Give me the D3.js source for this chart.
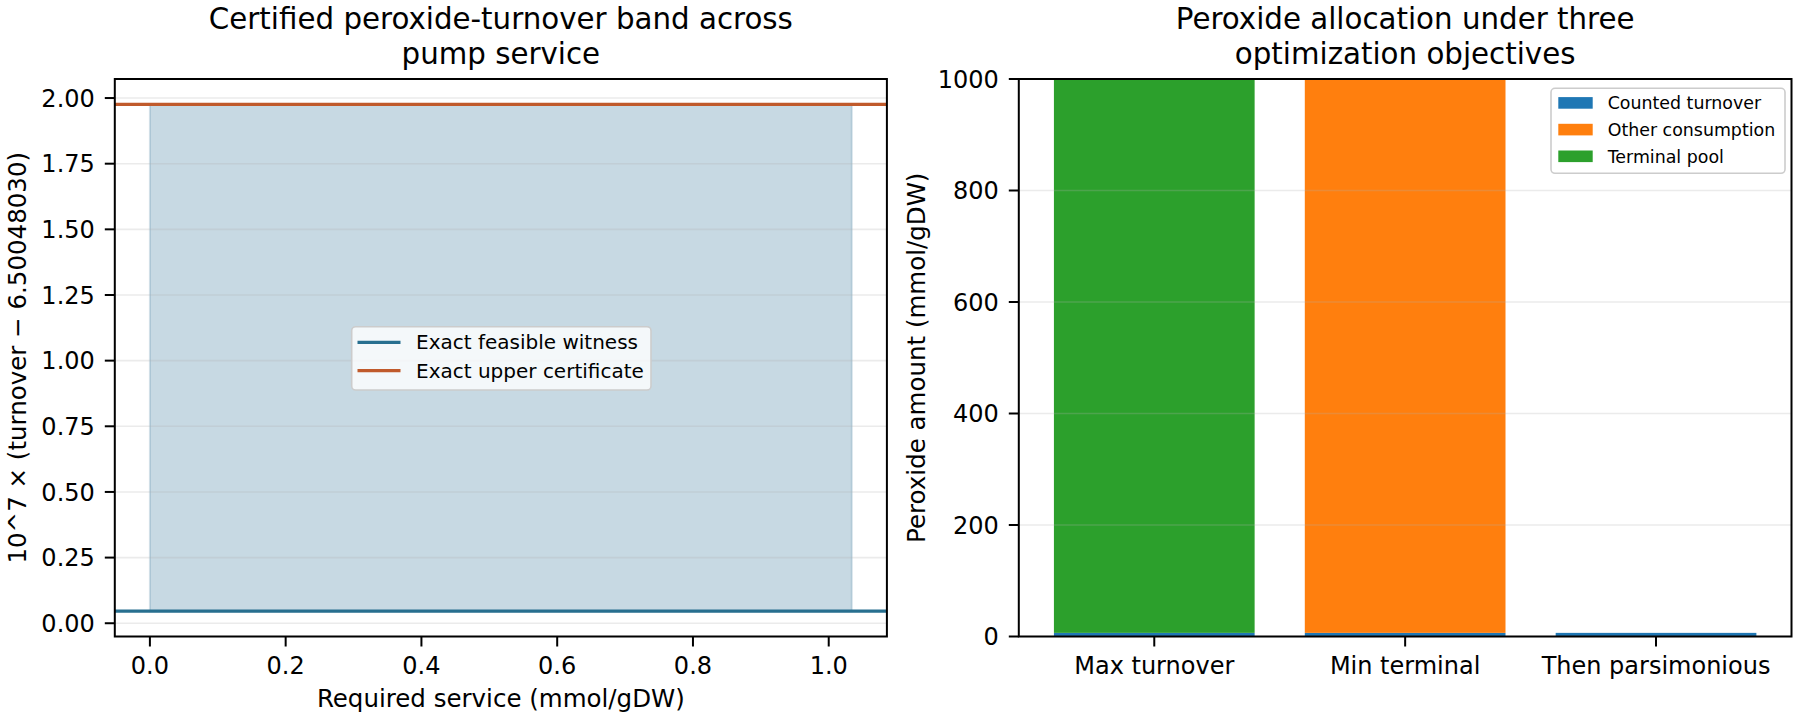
<!DOCTYPE html>
<html>
<head>
<meta charset="utf-8">
<script src="https://cdn.jsdelivr.net/npm/d3@7"></script>
<style>
  html, body { margin: 0; padding: 0; background: #ffffff; }
  svg { display: block; font-family: "DejaVu Sans", sans-serif; }
</style>
</head>
<body>
<svg id="chart" width="1800" height="720"></svg>
<script>
// ---------- data ----------
const serviceRange = [0, 1.034];          // required service span (mmol/gDW)
const witnessValue = 0.046;               // 10^7 × (turnover − 6.50048030)
const upperValue = 1.976;
const leftYTicks = [0, 0.25, 0.5, 0.75, 1.0, 1.25, 1.5, 1.75, 2.0];
const leftXTicks = [0, 0.2, 0.4, 0.6, 0.8, 1.0];
const leftLegend = ["Exact feasible witness", "Exact upper certificate"];

const categories = ["Max turnover", "Min terminal", "Then parsimonious"];
const countedTurnover = [6.5, 6.5, 6.5];
const otherConsumption = [0, 993.5, 0];
const terminalPool = [993.5, 0, 0];
const seriesNames = ["Counted turnover", "Other consumption", "Terminal pool"];
const seriesColors = ["#1f77b4", "#ff7f0e", "#2ca02c"];
const rightYTicks = [0, 200, 400, 600, 800, 1000];

// ---------- layout ----------
const svg = d3.select("#chart");
const L = {left: 114.8, right: 886.9, top: 79, bottom: 636.5};
const R = {left: 1018.8, right: 1791.5, top: 79, bottom: 636.5};
const tickFont = 24, labelFont = 24.5, titleFont = 29.3;
const tickLen = 10, tickPad = 10;

function title(ax, lines) {
  const cx = (ax.left + ax.right) / 2;
  const t = svg.append("text").attr("text-anchor", "middle")
    .attr("font-size", titleFont).attr("fill", "#000");
  lines.forEach((s, i) => t.append("tspan").attr("x", cx).attr("y", 28.7 + i * 35).text(s));
}

function frame(ax) {
  svg.append("rect").attr("x", ax.left).attr("y", ax.top)
    .attr("width", ax.right - ax.left).attr("height", ax.bottom - ax.top)
    .attr("fill", "none").attr("stroke", "#000").attr("stroke-width", 2);
}

function yAxis(ax, y, ticks, fmt) {
  const g = svg.append("g");
  ticks.forEach(v => {
    const yy = y(v);
    g.append("line").attr("x1", ax.left - tickLen).attr("x2", ax.left)
      .attr("y1", yy).attr("y2", yy).attr("stroke", "#000").attr("stroke-width", 2);
    g.append("text").attr("x", ax.left - tickLen - tickPad).attr("y", yy + 8.7)
      .attr("text-anchor", "end").attr("font-size", tickFont).text(fmt(v));
  });
}

function grid(ax, y, ticks) {
  ticks.forEach(v => {
    svg.append("line").attr("x1", ax.left).attr("x2", ax.right)
      .attr("y1", y(v)).attr("y2", y(v))
      .attr("stroke", "#b0b0b0").attr("stroke-opacity", 0.25).attr("stroke-width", 1.6);
  });
}

// ================= LEFT PANEL =================
const pad = (serviceRange[1] - serviceRange[0]) * 0.05;
const xL = d3.scaleLinear().domain([serviceRange[0] - pad, serviceRange[1] + pad]).range([L.left, L.right]);
const ySpan = (upperValue - witnessValue) * 0.05;
const yL = d3.scaleLinear().domain([witnessValue - ySpan, upperValue + ySpan]).range([L.bottom, L.top]);

const clipL = svg.append("clipPath").attr("id", "clipL").append("rect")
  .attr("x", L.left).attr("y", L.top).attr("width", L.right - L.left).attr("height", L.bottom - L.top);

// band
const bandData = [{x: serviceRange[0]}, {x: serviceRange[1]}];
const area = d3.area().x(d => xL(d.x)).y0(yL(witnessValue)).y1(yL(upperValue));
svg.append("path").datum(bandData).attr("d", area)
  .attr("fill", "#307297").attr("fill-opacity", 0.27)
  .attr("stroke", "#307297").attr("stroke-opacity", 0.2).attr("stroke-width", 2);

grid(L, yL, leftYTicks);

// horizontal lines spanning the axes
const gl = svg.append("g").attr("clip-path", "url(#clipL)");
gl.append("line").attr("x1", L.left).attr("x2", L.right)
  .attr("y1", yL(witnessValue)).attr("y2", yL(witnessValue))
  .attr("stroke", "#276f8f").attr("stroke-width", 3.3);
gl.append("line").attr("x1", L.left).attr("x2", L.right)
  .attr("y1", yL(upperValue)).attr("y2", yL(upperValue))
  .attr("stroke", "#c05a2b").attr("stroke-width", 3.3);

frame(L);
yAxis(L, yL, leftYTicks, d3.format(".2f"));
leftXTicks.forEach(v => {
  const xx = xL(v);
  svg.append("line").attr("x1", xx).attr("x2", xx).attr("y1", L.bottom).attr("y2", L.bottom + tickLen)
    .attr("stroke", "#000").attr("stroke-width", 2);
  svg.append("text").attr("x", xx).attr("y", 674).attr("text-anchor", "middle")
    .attr("font-size", tickFont).text(d3.format(".1f")(v));
});
svg.append("text").attr("x", (L.left + L.right) / 2).attr("y", 707).attr("text-anchor", "middle")
  .attr("font-size", labelFont).text("Required service (mmol/gDW)");
svg.append("text").attr("transform", `translate(26,${(L.top + L.bottom) / 2}) rotate(-90)`)
  .attr("text-anchor", "middle").attr("font-size", labelFont)
  .text("10^7 × (turnover − 6.50048030)");
title(L, ["Certified peroxide-turnover band across", "pump service"]);

// left legend
const lg = svg.append("g");
lg.append("rect").attr("x", 351.7).attr("y", 326.7).attr("width", 299.3).attr("height", 63.3)
  .attr("rx", 4).attr("fill", "#ffffff").attr("fill-opacity", 0.8)
  .attr("stroke", "#cccccc").attr("stroke-width", 1.6);
[["#276f8f", 0], ["#c05a2b", 1]].forEach(([c, i]) => {
  const yy = 342.3 + i * 28.3;
  lg.append("line").attr("x1", 357.5).attr("x2", 400.5).attr("y1", yy).attr("y2", yy)
    .attr("stroke", c).attr("stroke-width", 3.3);
  lg.append("text").attr("x", 416).attr("y", yy + 7.1).attr("font-size", 20).text(leftLegend[i]);
});

// ================= RIGHT PANEL =================
const xR = d3.scaleBand().domain(categories).range([R.left, R.right]).paddingInner(0.2).paddingOuter(0.14);
const yR = d3.scaleLinear().domain([0, 1000]).range([R.bottom, R.top]);

const rows = categories.map((c, i) => ({cat: c, counted: countedTurnover[i], other: otherConsumption[i], terminal: terminalPool[i]}));
const stack = d3.stack().keys(["counted", "other", "terminal"])(rows);
const clipR = svg.append("clipPath").attr("id", "clipR").append("rect")
  .attr("x", R.left).attr("y", R.top).attr("width", R.right - R.left).attr("height", R.bottom - R.top);
const gb = svg.append("g").attr("clip-path", "url(#clipR)");
stack.forEach((layer, k) => {
  gb.selectAll(null).data(layer).enter().append("rect")
    .attr("x", d => xR(d.data.cat)).attr("width", xR.bandwidth())
    .attr("y", d => yR(d[1])).attr("height", d => Math.max(0, yR(d[0]) - yR(d[1])))
    .attr("fill", seriesColors[k]);
});

grid(R, yR, rightYTicks);
frame(R);
yAxis(R, yR, rightYTicks, d3.format("d"));
categories.forEach(c => {
  const xx = xR(c) + xR.bandwidth() / 2;
  svg.append("line").attr("x1", xx).attr("x2", xx).attr("y1", R.bottom).attr("y2", R.bottom + tickLen)
    .attr("stroke", "#000").attr("stroke-width", 2);
  svg.append("text").attr("x", xx).attr("y", 674).attr("text-anchor", "middle")
    .attr("font-size", tickFont).text(c);
});
svg.append("text").attr("transform", `translate(925,${(R.top + R.bottom) / 2}) rotate(-90)`)
  .attr("text-anchor", "middle").attr("font-size", labelFont)
  .text("Peroxide amount (mmol/gDW)");
title(R, ["Peroxide allocation under three", "optimization objectives"]);

// right legend
const rg = svg.append("g");
rg.append("rect").attr("x", 1551).attr("y", 88.3).attr("width", 234).attr("height", 85)
  .attr("rx", 4).attr("fill", "#ffffff").attr("fill-opacity", 0.8)
  .attr("stroke", "#cccccc").attr("stroke-width", 1.6);
seriesNames.forEach((s, i) => {
  const yy = 102.9 + i * 26.7;
  rg.append("rect").attr("x", 1558.3).attr("y", yy - 5.8).attr("width", 34.4).attr("height", 11.6)
    .attr("fill", seriesColors[i]);
  rg.append("text").attr("x", 1607.7).attr("y", yy + 6.4).attr("font-size", 17.4).text(s);
});
</script>
</body>
</html>
